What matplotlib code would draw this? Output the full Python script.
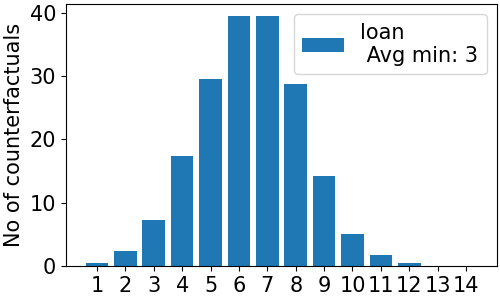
import matplotlib
matplotlib.use("Agg")
import matplotlib.pyplot as plt

# number of features changed -> count of counterfactuals
n_changed = list(range(1, 15))
counts = [0.47, 2.37, 7.28, 17.4, 29.57, 39.4, 39.4, 28.78, 14.24, 5.06, 1.74, 0.47, 0.0, 0.0]
label = "loan\n Avg min: 3"

plt.rcParams['font.size'] = 15
fig = plt.figure(figsize=(5, 3), dpi=100)
ax = fig.add_subplot(111)
ax.bar(n_changed, counts, label=label)
ax.set_xticks(n_changed)
ax.set_ylabel('No of counterfactuals')
ax.legend(loc='upper right')
fig.subplots_adjust(left=0.132, right=0.994, bottom=0.113, top=0.987)
fig.savefig('out.png')
